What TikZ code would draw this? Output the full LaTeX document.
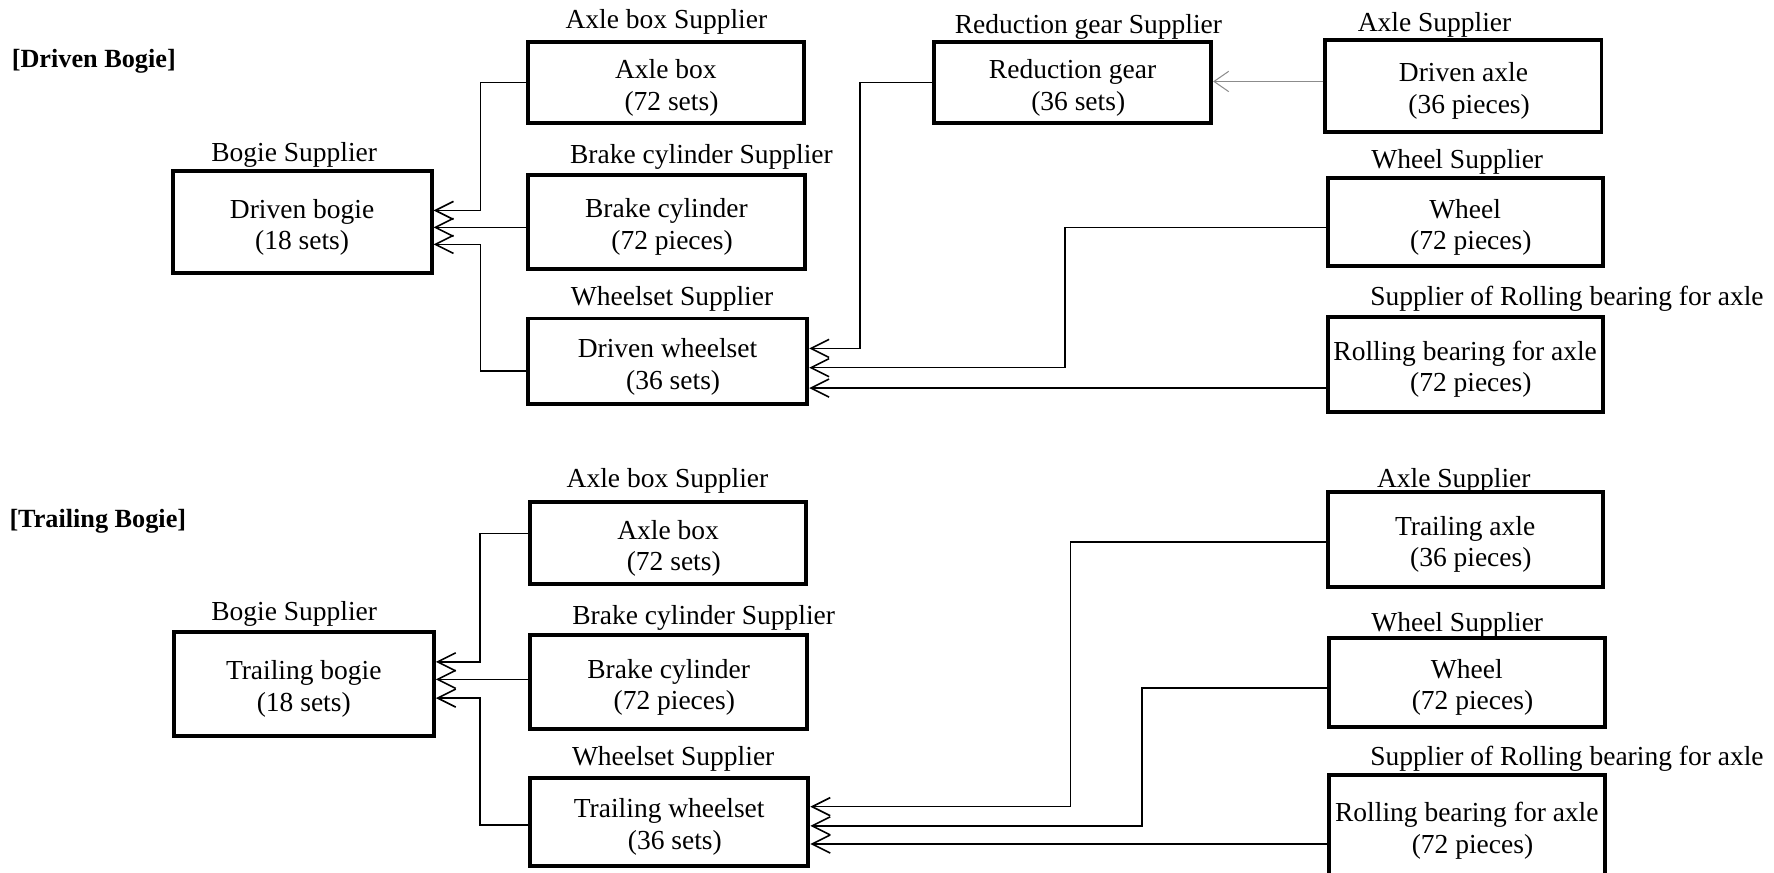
\documentclass[tikz,border=0pt]{standalone}
\usepackage{fontspec}
\setmainfont{Liberation Serif}
\usetikzlibrary{arrows.meta}
\newcommand{\boxfont}{\fontsize{12.15}{14}\selectfont}
\newcommand{\titlefont}{\fontsize{11.6}{13}\selectfont\bfseries}
\newcommand{\tl}{\rule{0pt}{13pt}}
\newcommand{\lead}{\hspace*{5pt}}
\tikzset{
  bx/.style 2 args={draw, line width=1.75pt, minimum width={0.5pt*#1}, minimum height={0.5pt*#2}, align=center, inner sep=0pt, font=\boxfont},
  lbl/.style={inner sep=0pt, font=\boxfont},
  ttl/.style={inner sep=0pt, anchor=west, font=\titlefont},
  conn/.style={line width=0.7pt},
  arr/.style={conn, -{Straight Barb[length=8pt,width=8pt,line width=0.7pt]}},
  garr/.style={line width=0.45pt, draw=black!45, -{Straight Barb[length=6.5pt,width=9pt,line width=0.45pt]}}
}
\begin{document}
\begin{tikzpicture}[x=0.5pt,y=-0.5pt]
\useasboundingbox (0,0) rectangle (1568,771);
% ---------------- Driven bogie ----------------
\node[ttl] (t1) at (10,54) {[Driven Bogie]};
\node[bx={244}{71}] (ab1) at (588.5,73) {\tl Axle box\\\lead(72 sets)};
\node[bx={229}{90}] (bg1) at (267,196.5) {\tl Driven bogie\\(18 sets)};
\node[bx={245}{83}] (bc1) at (589,196) {\tl Brake cylinder\\\lead(72 pieces)};
\node[bx={247}{76}] (ws1) at (590,319.5) {\tl Driven wheelset\\\lead(36 sets)};
\node[bx={245}{71}] (rg1) at (948,73) {\tl Reduction gear\\\lead(36 sets)};
\node[bx={244}{81}] (ax1) at (1293.5,76) {\tl Driven axle\\\lead(36 pieces)};
\node[bx={243}{78}] (wh1) at (1295,196.5) {\tl Wheel\\\lead(72 pieces)};
\node[bx={243}{84}] (rb1) at (1295,322) {\tl Rolling bearing for axle\\\lead(72 pieces)};

\node[lbl] (lab1) at (589,19) {Axle box Supplier};
\node[lbl] (lbg1) at (260,137) {Bogie Supplier};
\node[lbl] (lbc1) at (620,139) {Brake cylinder Supplier};
\node[lbl] (lws1) at (594,264) {Wheelset Supplier};
\node[lbl] (lrg1) at (962,24) {Reduction gear Supplier};
\node[lbl] (lax1) at (1268,22) {Axle Supplier};
\node[lbl] (lwh1) at (1288,143) {Wheel Supplier};
\node[lbl] (lrb1) at (1385,264) {Supplier of Rolling bearing for axle};

\draw[arr] (ab1.west) -- ++(-40,0) |- (bg1.east |- 0,186);
\draw[arr] (bc1.west |- 0,201) -- (bg1.east |- 0,201);
\draw[arr] (ws1.west |- 0,328) -- ++(-40,0) |- (bg1.east |- 0,216);
\draw[arr] (rg1.west) -- ++(-63.5,0) |- (ws1.east |- 0,308);
\draw[garr] (ax1.west |- 0,72) -- (rg1.east |- 0,72);
\draw[arr] (wh1.west |- 0,201) -- ++(-230.5,0) |- (ws1.east |- 0,325);
\draw[arr] (rb1.west |- 0,343) -- (ws1.east |- 0,343);

% ---------------- Trailing bogie ----------------
\node[ttl] (t2) at (8,461) {[Trailing Bogie]};
\node[bx={244}{73}] (ab2) at (590.5,480) {\tl Axle box\\\lead(72 sets)};
\node[bx={230}{92}] (bg2) at (268.5,604.5) {\tl Trailing bogie\\(18 sets)};
\node[bx={245}{83}] (bc2) at (591,603) {\tl Brake cylinder\\\lead(72 pieces)};
\node[bx={246}{78}] (ws2) at (591.5,726.5) {\tl Trailing wheelset\\\lead(36 sets)};
\node[bx={243}{84}] (ax2) at (1295,476.5) {\tl Trailing axle\\\lead(36 pieces)};
\node[bx={244}{79}] (wh2) at (1296.5,603) {\tl Wheel\\\lead(72 pieces)};
\node[bx={244}{90}] (rb2) at (1296.5,730) {\tl Rolling bearing for axle\\\lead(72 pieces)};

\node[lbl] (lab2) at (590,425) {Axle box Supplier};
\node[lbl] (lbg2) at (260,543) {Bogie Supplier};
\node[lbl] (lbc2) at (622,546) {Brake cylinder Supplier};
\node[lbl] (lws2) at (595,671) {Wheelset Supplier};
\node[lbl] (lax2) at (1285,425) {Axle Supplier};
\node[lbl] (lwh2) at (1288,552) {Wheel Supplier};
\node[lbl] (lrb2) at (1385,671) {Supplier of Rolling bearing for axle};

\draw[arr] (ab2.west |- 0,471.5) -- ++(-42.5,0) |- (bg2.east |- 0,585);
\draw[arr] (bc2.west |- 0,600.5) -- (bg2.east |- 0,600.5);
\draw[arr] (ws2.west |- 0,729) -- ++(-42.5,0) |- (bg2.east |- 0,617);
\draw[arr] (ax2.west |- 0,479) -- ++(-225.5,0) |- (ws2.east |- 0,713);
\draw[arr] (wh2.west |- 0,608) -- ++(-163.5,0) |- (ws2.east |- 0,730);
\draw[arr] (rb2.west |- 0,746) -- (ws2.east |- 0,746);
\end{tikzpicture}
\end{document}
